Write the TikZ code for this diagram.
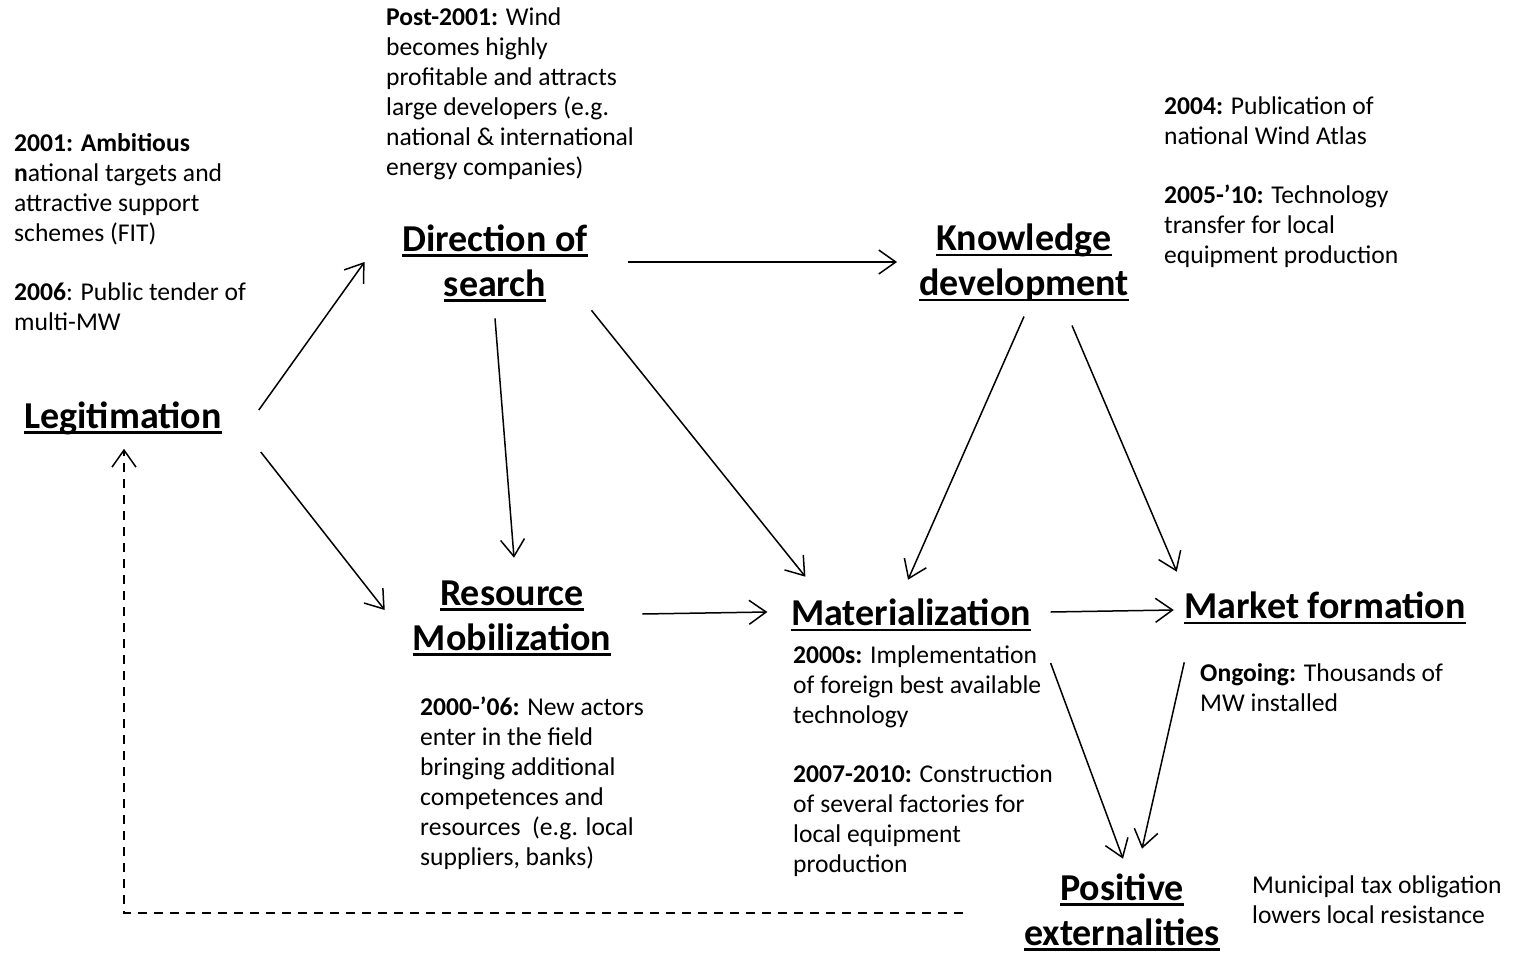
\documentclass[tikz,border=0pt]{standalone}
\usepackage{fontspec}
\setmainfont{Carlito}
\usetikzlibrary{arrows.meta, positioning, calc}

\newcommand{\hdline}[1]{\setbox0\hbox{#1}\rlap{\rule[-5.5pt]{\wd0}{2.4pt}}\box0}

\begin{document}
\begin{tikzpicture}[x=1pt, y=-1pt,
            fnode/.style={inner sep=0pt, align=center, font=\fontsize{38}{45}\selectfont\bfseries},
            note/.style={inner sep=0pt, anchor=north west, align=left, font=\fontsize{25.6}{30}\selectfont},
            arrow/.style={-{Straight Barb[length=17pt, width=24pt]}, line width=1.5pt},
            feedback/.style={arrow, dash pattern=on 9pt off 7pt}
        ]
        \useasboundingbox (0,0) rectangle (1518,953);

        % --- functions ---
        \node[fnode] (leg) at (123, 418) {\hdline{Legitimation}};
        \node[fnode] (dir) at (495, 263) {\hdline{Direction of}\\\hdline{search}};
        \node[fnode] (know) at (1024, 263) {\hdline{Knowledge}\\\hdline{development}};
        \node[fnode] (res) at (512, 618) {\hdline{Resource}\\\hdline{Mobilization}};
        \node[fnode] (mat) at (911, 615) {\hdline{Materialization}};
        \node[fnode] (mkt) at (1325, 608) {\hdline{Market formation}};
        \node[fnode] (pos) at (1122, 912) {\hdline{Positive}\\\hdline{externalities}};

        % --- notes ---
        \node[note] (n2001) at (14, 133) {\textbf{2001: Ambitious}\\\textbf{n}ational targets and\\attractive support\\schemes (FIT)\\[29pt]\textbf{2006}: Public tender of\\multi-MW};
        \node[note] (npost) at (386, 8) {\textbf{Post-2001:} Wind\\becomes highly\\profitable and attracts\\large developers (e.g.\\national \& international\\energy companies)};
        \node[note] (n2004) at (1164, 97) {\textbf{2004:} Publication of\\national Wind Atlas\\[29pt]\textbf{2005-’10:} Technology\\transfer for local\\equipment production};
        \node[note] (n2000) at (420, 697) {\textbf{2000-’06:} New actors\\enter in the field\\bringing additional\\competences and\\resources~ (e.g. local\\suppliers, banks)};
        \node[note] (n2000s) at (793, 646) {\textbf{2000s:} Implementation\\of foreign best available\\technology\\[29pt]\textbf{2007-2010:} Construction\\of several factories for\\local equipment\\production};
        \node[note] (nongo) at (1200, 663) {\textbf{Ongoing:} Thousands of\\MW installed};
        \node[note] (nmuni) at (1252, 876) {Municipal tax obligation\\lowers local resistance};

        % --- links ---
        \draw[arrow] ([shift={(37,-8)}]leg.east) -- ([shift={(-37.5,-1)}]dir.west);
        \draw[arrow] ([shift={(39,34)}]leg.east) -- ([shift={(-28,-8)}]res.west);
        \draw[arrow] ([shift={(0,16.5)}]dir.south) -- ([shift={(2,-22.5)}]res.north);
        \draw[arrow] ([shift={(3.5,8.5)}]dir.south east) -- ([shift={(14.5,-22)}]mat.north west);
        \draw[arrow] ([shift={(40,-1)}]dir.east) -- ([shift={(-22,-1)}]know.west);
        \draw[arrow] ([shift={(0,14.5)}]know.south) -- ([shift={(-3,-19)}]mat.north);
        \draw[arrow] ([shift={(48,23.5)}]know.south) -- ([shift={(-7.5,-20)}]mkt.north west);
        \draw[arrow] ([shift={(31,-4)}]res.east) -- ([shift={(-23.5,-3)}]mat.west);
        \draw[arrow] ([shift={(19.5,-3)}]mat.east) -- ([shift={(-10.5,2)}]mkt.west);
        \draw[arrow] ([shift={(19.5,48)}]mat.east) -- ([shift={(1,-14.5)}]pos.north);
        \draw[arrow] ([shift={(0,38)}]mkt.south west) -- ([shift={(20,-24.5)}]pos.north);
        \draw[feedback] ([shift={(-60.5,1)}]pos.west) -| ([shift={(1,14)}]leg.south);
\end{tikzpicture}
\end{document}
